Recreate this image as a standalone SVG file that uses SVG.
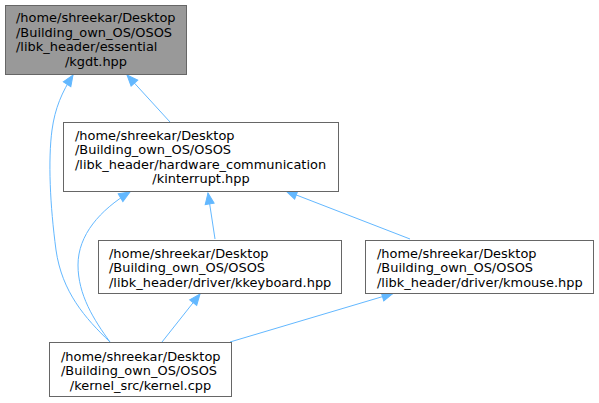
<svg xmlns="http://www.w3.org/2000/svg" width="599" height="403" viewBox="0 0 599 403">
<style>
.n rect{fill:#ffffff;stroke:#666666;stroke-width:1}
#kgdt rect{fill:#999999}
.n text{font-family:"DejaVu Sans",sans-serif;font-size:12.95px;fill:#000000}
.c{text-anchor:middle}
.e path{fill:none;stroke:#63b8ff;stroke-width:1}
</style>
<defs>
<marker id="ah" markerUnits="userSpaceOnUse" markerWidth="14" markerHeight="12" viewBox="-1 -6 14 12" refX="11" refY="0" orient="auto">
<path d="M0,-4.5 L11,0 L0,4.5 Z" fill="#63b8ff" stroke="#63b8ff" stroke-width="1"/>
</marker>
</defs>
<g class="e" id="edges">
<path d="M110,342 C85,318 62,292 56,250 C50,205 48,160 52,130 C55,108 62,92 73,75" marker-end="url(#ah)"/>
<path d="M170,122 L127,75" marker-end="url(#ah)"/>
<path d="M110,342 C94,320 78,295 78,265 C78,235 100,210 130,192" marker-end="url(#ah)"/>
<path d="M215,239 L208,193" marker-end="url(#ah)"/>
<path d="M410,239 L286,191" marker-end="url(#ah)"/>
<path d="M162,342 L200,294" marker-end="url(#ah)"/>
<path d="M230,342 L393,293.5" marker-end="url(#ah)"/>
</g>
<g class="n" id="kgdt">
<rect x="5.5" y="5.5" width="181" height="69"/>
<text x="16" y="22">/home/shreekar/Desktop</text>
<text x="16" y="36.5">/Building_own_OS/OSOS</text>
<text x="16" y="51">/libk_header/essential</text>
<text class="c" x="96" y="65.5">/kgdt.hpp</text>
</g>
<g class="n" id="kinterrupt">
<rect x="63.5" y="122.5" width="275" height="69"/>
<text x="75" y="139.5">/home/shreekar/Desktop</text>
<text x="75" y="154">/Building_own_OS/OSOS</text>
<text x="75" y="168.5">/libk_header/hardware_communication</text>
<text class="c" x="201" y="183">/kinterrupt.hpp</text>
</g>
<g class="n" id="kkeyboard">
<rect x="98.5" y="240.5" width="243" height="53"/>
<text x="109" y="257.5">/home/shreekar/Desktop</text>
<text x="109" y="272">/Building_own_OS/OSOS</text>
<text x="109" y="286.5">/libk_header/driver/kkeyboard.hpp</text>
</g>
<g class="n" id="kmouse">
<rect x="365.5" y="240.5" width="228" height="53"/>
<text x="377" y="257.5">/home/shreekar/Desktop</text>
<text x="377" y="272">/Building_own_OS/OSOS</text>
<text x="377" y="286.5">/libk_header/driver/kmouse.hpp</text>
</g>
<g class="n" id="kernel">
<rect x="49.5" y="342.5" width="182" height="54"/>
<text x="61" y="360.5">/home/shreekar/Desktop</text>
<text x="61" y="375">/Building_own_OS/OSOS</text>
<text class="c" x="140.5" y="389.5">/kernel_src/kernel.cpp</text>
</g>
</svg>
